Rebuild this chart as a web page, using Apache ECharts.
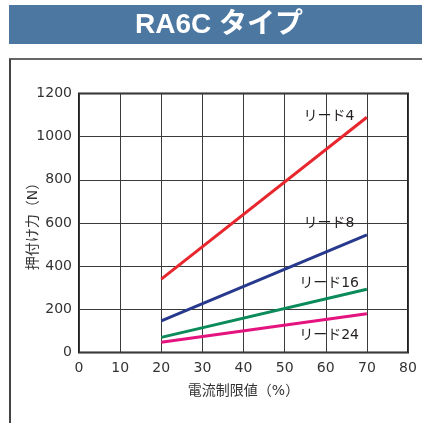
<!DOCTYPE html>
<html>
<head>
<meta charset="utf-8">
<script src="https://cdn.jsdelivr.net/npm/echarts@6/dist/echarts.min.js"></script>
<style>
html,body{margin:0;padding:0;background:#fff;}
#chart{width:422px;height:423px;}
</style>
</head>
<body>
<div id="chart"></div>
<script>
const titleText = 'RA6C タイプ';
const xAxisName = '電流制限値（%）';
const yAxisName = '押付け力（N）';
const currentLimit = [20, 70];
const leadNames = ['リード4', 'リード8', 'リード16', 'リード24'];
const force4 = [340, 1090];
const force8 = [147, 545];
const force16 = [70, 293];
const force24 = [47, 180];
const labelX = [60.8, 60.8, 60.8, 60.8];
const labelY = [1093, 600, 322, 81];

const seriesValues = [force4, force8, force16, force24];
const colors = ['#e8262d', '#26398c', '#0b8a5a', '#e5137f'];

const chart = echarts.init(document.getElementById('chart'), null, {renderer: 'canvas'});
const font = "'DejaVu Sans', 'Noto Sans CJK JP', sans-serif";

const series = seriesValues.map((vals, i) => ({
  type: 'line',
  name: leadNames[i],
  data: currentLimit.map((x, j) => [x, vals[j]]),
  symbol: 'none',
  lineStyle: {color: colors[i], width: 3},
  z: 5,
  markPoint: {
    symbol: 'circle',
    symbolSize: 0,
    data: [{coord: [labelX[i], labelY[i]], value: leadNames[i]}],
    label: {show: true, position: 'inside', formatter: leadNames[i], color: '#231f20', fontSize: 14, fontFamily: font},
    animation: false
  }
}));

chart.setOption({
  animation: false,
  backgroundColor: '#fff',
  graphic: [
    {type: 'rect', shape: {x: 9, y: 5, width: 413, height: 39}, style: {fill: '#4b77a1'}},
    {type: 'text', x: 219, y: 25, style: {text: titleText, fill: '#fff', font: "bold 28px 'Liberation Sans', 'Noto Sans CJK JP', sans-serif", align: 'center', verticalAlign: 'middle'}},
    {type: 'line', shape: {x1: 9, y1: 59, x2: 422, y2: 59}, style: {stroke: '#333', lineWidth: 1.5}},
    {type: 'line', shape: {x1: 10, y1: 59, x2: 10, y2: 423}, style: {stroke: '#444', lineWidth: 2}}
  ],
  grid: {left: 79, right: 14, top: 93.5, bottom: 70.5, show: true, borderColor: '#231f20', borderWidth: 2, backgroundColor: 'transparent'},
  xAxis: {
    type: 'value', min: 0, max: 80, interval: 10,
    name: xAxisName, nameLocation: 'middle', nameGap: 32, nameMoveOverlap: false,
    nameTextStyle: {color: '#333', fontSize: 14, fontFamily: font},
    axisLine: {show: false}, axisTick: {show: false},
    axisLabel: {color: '#333', fontSize: 14, fontFamily: font, margin: 9, formatter: v => String(v)},
    splitLine: {show: true, lineStyle: {color: '#3a3a3a', width: 1}}
  },
  yAxis: {
    type: 'value', min: 0, max: 1200, interval: 200,
    name: yAxisName, nameLocation: 'middle', nameGap: 39, nameMoveOverlap: false,
    nameTextStyle: {color: '#333', fontSize: 14, fontFamily: font},
    axisLine: {show: false}, axisTick: {show: false},
    axisLabel: {color: '#333', fontSize: 14, fontFamily: font, margin: 7, formatter: v => String(v)},
    splitLine: {show: true, lineStyle: {color: '#3a3a3a', width: 1}}
  },
  series: series
});
</script>
</body>
</html>
